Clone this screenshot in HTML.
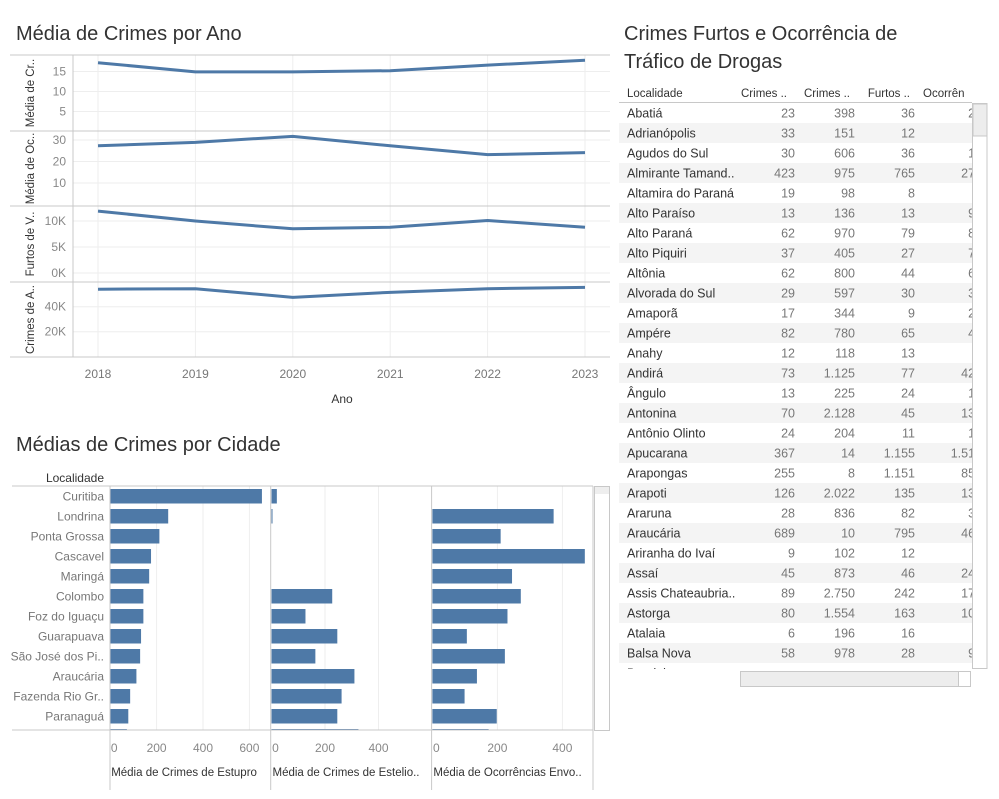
<!DOCTYPE html>
<html><head><meta charset="utf-8">
<style>
html,body{margin:0;padding:0;background:#fff;}
svg{display:block;font-family:"Liberation Sans",sans-serif;}
</style></head>
<body>
<svg id="dash" width="999" height="799" viewBox="0 0 999 799" xmlns="http://www.w3.org/2000/svg">
  <text x="16" y="40" font-size="20" fill="#333">Média de Crimes por Ano</text>
  <text x="16" y="451" font-size="20" fill="#333">Médias de Crimes por Cidade</text>
  <text x="624" y="40" font-size="20" fill="#333">Crimes Furtos e Ocorrência de</text>
  <text x="624" y="68" font-size="20" fill="#333">Tráfico de Drogas</text>
  <g id="lines"></g>
  <g id="bars"></g>
  <g id="table"></g>
</svg>
<script>
// ---------- line chart data ----------
const years = [2018, 2019, 2020, 2021, 2022, 2023];
const serEstupro = [17.2, 14.9, 14.9, 15.2, 16.6, 17.8];
const serOcorr = [27.3, 28.9, 31.7, 27.3, 23.2, 24.1];
const serFurtos = [11900, 10000, 8500, 8800, 10100, 8800];
const serCrimesA = [54000, 54400, 47500, 51500, 54400, 55500];
const ticks1 = [5, 10, 15];
const ticks2 = [10, 20, 30];
const ticks3 = [0, 5000, 10000];
const ticks4 = [20000, 40000];
const tickLbl3 = ["0K", "5K", "10K"];
const tickLbl4 = ["20K", "40K"];
const titles = ["Média de Cr..", "Média de Oc..", "Furtos de V..", "Crimes de A.."];

// ---------- bar chart data ----------
const cities = ["Curitiba","Londrina","Ponta Grossa","Cascavel","Maringá","Colombo","Foz do Iguaçu","Guarapuava","São José dos Pi..","Araucária","Fazenda Rio Gr..","Paranaguá",""];
const barEstupro = [654, 250, 212, 176, 168, 143, 143, 133, 129, 113, 86, 78, 72];
const barEstelio = [20, 3, 0, 0, 0, 227, 127, 246, 164, 310, 262, 246, 325];
const barOcorr = [0, 373, 210, 469, 245, 272, 231, 106, 223, 137, 99, 198, 173];
const barTicks1 = [0, 200, 400, 600];
const barTicks2 = [0, 200, 400];
const barTicks3 = [0, 200, 400];
const barTitles = ["Média de Crimes de Estupro", "Média de Crimes de Estelio..", "Média de Ocorrências Envo.."];

// ---------- table data ----------
const tNames = ["Abatiá","Adrianópolis","Agudos do Sul","Almirante Tamand..","Altamira do Paraná","Alto Paraíso","Alto Paraná","Alto Piquiri","Altônia","Alvorada do Sul","Amaporã","Ampére","Anahy","Andirá","Ângulo","Antonina","Antônio Olinto","Apucarana","Arapongas","Arapoti","Araruna","Araucária","Ariranha do Ivaí","Assaí","Assis Chateaubria..","Astorga","Atalaia","Balsa Nova","Bandeirantes"];
const tCol1 = ["23","33","30","423","19","13","62","37","62","29","17","82","12","73","13","70","24","367","255","126","28","689","9","45","89","80","6","58",""];
const tCol2 = ["398","151","606","975","98","136","970","405","800","597","344","780","118","1.125","225","2.128","204","14","8","2.022","836","10","102","873","2.750","1.554","196","978",""];
const tCol3 = ["36","12","36","765","8","13","79","27","44","30","9","65","13","77","24","45","11","1.155","1.151","135","82","795","12","46","242","163","16","28",""];
const tCol4 = ["24","4","14","274","4","94","84","74","64","34","24","44","4","424","14","134","14","1.514","854","134","34","464","4","244","174","104","4","94",""];
const tHeads = ["Localidade","Crimes ..","Crimes ..","Furtos ..","Ocorrên"];

const NS = "http://www.w3.org/2000/svg";
const BLUE = "#4e79a7";
function mk(tag, attrs, parent) {
  const e = document.createElementNS(NS, tag);
  for (const k in attrs) e.setAttribute(k, attrs[k]);
  parent.appendChild(e);
  return e;
}

// ---------- line charts ----------
const L = document.getElementById("lines");
const xL = 73, xR = 610;
const xYear = y => 98 + (y - 2018) * 97.4;
const panels = [
  {top: 55, bot: 131, y: v => 131.5 - v * 4, data: serEstupro, ticks: ticks1, lbl: ticks1.map(String)},
  {top: 131, bot: 206, y: v => 204.5 - v * 2.15, data: serOcorr, ticks: ticks2, lbl: ticks2.map(String)},
  {top: 206, bot: 282, y: v => 273 - v * 0.0052, data: serFurtos, ticks: ticks3, lbl: tickLbl3},
  {top: 282, bot: 357, y: v => 356.7 - v * 0.00125, data: serCrimesA, ticks: ticks4, lbl: tickLbl4}
];
years.forEach(yr => {
  const g = mk("line", {x1: xYear(yr), x2: xYear(yr), y1: 55, y2: 357, stroke: "#eee", "stroke-width": 1}, L);
  
  
  const t = mk("text", {x: xYear(yr), y: 378, "font-size": 12, fill: "#777", "text-anchor": "middle"}, L);
  t.textContent = String(yr);
  
  
});
panels.forEach((p, i) => {
  p.ticks.forEach((tv, j) => {
    const gy = p.y(tv);
    const gl = mk("line", {x1: xL, x2: xR, y1: gy, y2: gy, stroke: "#eee", "stroke-width": 1}, L);
    
    
    const tl = mk("text", {x: 66, y: gy + 4, "font-size": 12, fill: "#888", "text-anchor": "end"}, L);
    tl.textContent = p.lbl[j];
    
    
  });
  const sep = mk("line", {x1: 10, x2: xR, y1: p.top, y2: p.top, stroke: "#c8c8c8", "stroke-width": 1}, L);
  
  
  const cy = (p.top + p.bot) / 2;
  const tt = mk("text", {x: 0, y: 0, "font-size": 11.5, fill: "#333", "text-anchor": "middle", transform: "translate(34," + cy + ") rotate(-90)"}, L);
  tt.textContent = titles[i];
  
  
  const pts = p.data.map((v, k) => xYear(years[k]) + "," + p.y(v)).join(" ");
  const pl = mk("polyline", {points: pts, fill: "none", stroke: BLUE, "stroke-width": 3, "stroke-linejoin": "round"}, L);
  
  
});
const bl = mk("line", {x1: 10, x2: xR, y1: 357, y2: 357, stroke: "#c8c8c8"}, L);


const al = mk("line", {x1: xL, x2: xL, y1: 55, y2: 357, stroke: "#c8c8c8"}, L);


const ano = mk("text", {x: 342, y: 403, "font-size": 12, fill: "#333", "text-anchor": "middle"}, L);
ano.textContent = "Ano";



// ---------- bar charts ----------
const B = document.getElementById("bars");
const bTop = 486, rowH = 20;
const bp = [
  {x0: 110.2, s: 0.232, right: 270.7, data: barEstupro, ticks: barTicks1},
  {x0: 271.5, s: 0.2675, right: 431.6, data: barEstelio, ticks: barTicks2},
  {x0: 432.4, s: 0.325, right: 593, data: barOcorr, ticks: barTicks3}
];
const loc = mk("text", {x: 104, y: 482, "font-size": 12, fill: "#333", "text-anchor": "end"}, B);
loc.textContent = "Localidade";


const clipB = mk("clipPath", {id: "bclip"}, B);
mk("rect", {x: 0, y: bTop, width: 600, height: 244}, clipB);
bp.forEach((p, i) => {
  p.ticks.forEach(tv => {
    const gx = p.x0 + tv * p.s;
    if (tv > 0) {
      const g = mk("line", {x1: gx, x2: gx, y1: bTop, y2: 730, stroke: "#eee"}, B);
      
      
    }
    const t = mk("text", {x: gx + (tv === 0 ? 4 : 0), y: 752, "font-size": 12, fill: "#888", "text-anchor": "middle"}, B);
    t.textContent = String(tv);
    
    
  });
  const d = mk("line", {x1: p.right, x2: p.right, y1: bTop, y2: 790, stroke: "#c8c8c8"}, B);
  
  
  const bt = mk("text", {x: p.x0 + 1, y: 776, "font-size": 11.5, fill: "#333"}, B);
  bt.textContent = barTitles[i];
  
  
  const gb = mk("g", {"clip-path": "url(#bclip)"}, B);
  p.data.forEach((v, k) => {
    const r = mk("rect", {x: p.x0, y: bTop + 3 + k * rowH, width: Math.max(v * p.s, v > 0 ? 1 : 0), height: 14.5, fill: BLUE}, gb);
    
    
  });
});
const l0 = mk("line", {x1: 110, x2: 110, y1: bTop, y2: 790, stroke: "#c8c8c8"}, B);


cities.forEach((c, k) => {
  if (!c) return;
  const t = mk("text", {x: 104, y: bTop + 14.5 + k * rowH, "font-size": 12, fill: "#777", "text-anchor": "end"}, B);
  t.textContent = c;
  
  
});
const bt1 = mk("line", {x1: 12, x2: 593, y1: bTop, y2: bTop, stroke: "#c8c8c8"}, B);


const bt2 = mk("line", {x1: 12, x2: 593, y1: 730, y2: 730, stroke: "#c8c8c8"}, B);


const sb = mk("rect", {x: 594.5, y: 486.5, width: 15, height: 244, fill: "#fff", stroke: "#c8c8c8"}, B);


const sbt = mk("rect", {x: 595, y: 487, width: 14, height: 7, fill: "#eee"}, B);



// ---------- table ----------
const T = document.getElementById("table");
const tTop = 103, tRow = 20;
const hx = [627, 787, 850, 910, 923];
tHeads.forEach((h, i) => {
  const t = mk("text", {x: hx[i], y: 97, "font-size": 11.5, fill: "#333", "text-anchor": (i === 0 || i === 4) ? "start" : "end"}, T);
  t.textContent = h;
  
  
});
const hl = mk("line", {x1: 619, x2: 972, y1: 102.5, y2: 102.5, stroke: "#c8c8c8"}, T);


const clipT = mk("clipPath", {id: "tclip"}, T);
mk("rect", {x: 619, y: tTop, width: 353, height: 566}, clipT);
const tg = mk("g", {"clip-path": "url(#tclip)"}, T);
tNames.forEach((n, k) => {
  const ry = tTop + k * tRow;
  if (k % 2 === 1) {
    const bg = mk("rect", {x: 619, y: ry, width: 353, height: tRow, fill: "#f4f4f4"}, tg);
    
    
  }
  const ty = ry + 14.5;
  const nt = mk("text", {x: 627, y: ty, "font-size": 12.5, fill: "#333"}, tg);
  nt.textContent = n;
  
  
  [[tCol1, 795], [tCol2, 855], [tCol3, 915], [tCol4, 982]].forEach(([col, x]) => {
    const c = mk("text", {x: x, y: ty, "font-size": 12.5, fill: "#777", "text-anchor": "end"}, tg);
    c.textContent = col[k];
    
    
  });
});
const vs = mk("rect", {x: 972.5, y: 103.5, width: 14.5, height: 565, fill: "#fff", stroke: "#c8c8c8"}, T);


const vt = mk("rect", {x: 973, y: 104, width: 14, height: 32, fill: "#ededed", stroke: "#c8c8c8"}, T);


const hs = mk("rect", {x: 740.5, y: 671.5, width: 230, height: 15, fill: "#ededed", stroke: "#c8c8c8"}, T);


const hse = mk("rect", {x: 958.5, y: 671.5, width: 12, height: 15, fill: "#fff", stroke: "#c8c8c8"}, T);


</script>
</body></html>
